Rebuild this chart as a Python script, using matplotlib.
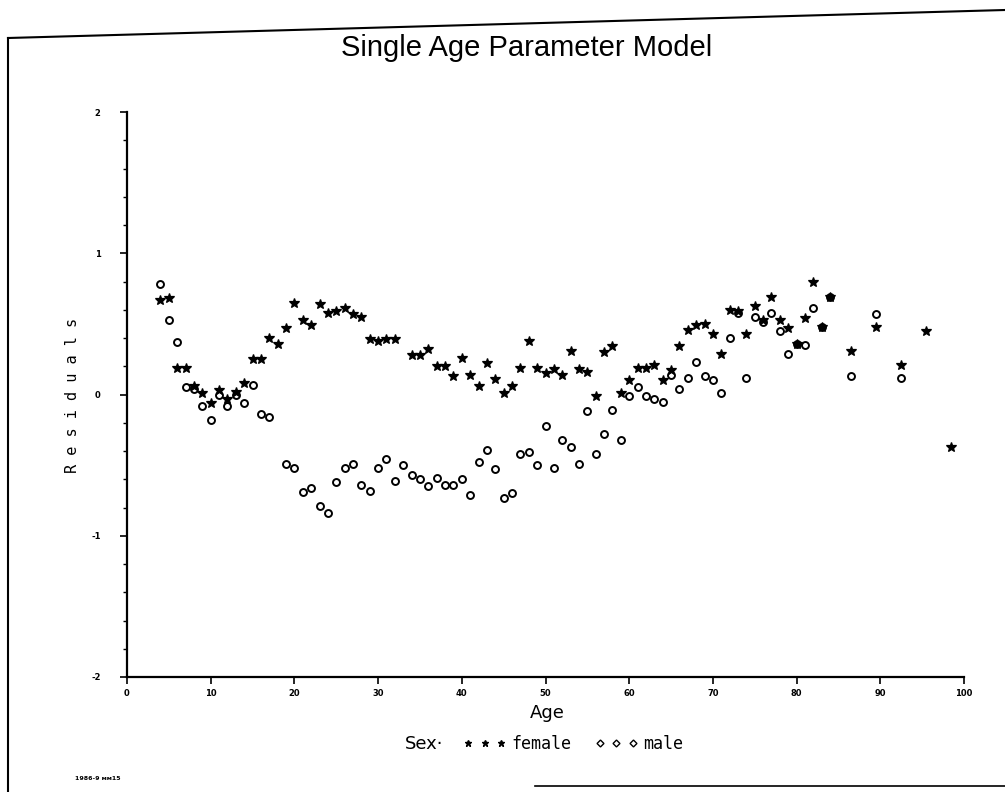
import matplotlib
matplotlib.use("Agg")
import matplotlib.pyplot as plt
from matplotlib.lines import Line2D
from matplotlib.ticker import MultipleLocator

# ---- data ----
female_age = [4, 5, 6, 7, 8, 9, 10, 11, 12, 13, 14, 15, 16, 17, 18, 19, 20, 21, 22,
              23, 24, 25, 26, 27, 28, 29, 30, 31, 32, 34, 35, 36, 37, 38, 39, 40,
              41, 42, 43, 44, 45, 46, 47, 48, 49, 50, 51, 52, 53, 54, 55, 56, 57,
              58, 59, 60, 61, 62, 63, 64, 65, 66, 67, 68, 69, 70, 71, 72, 73, 74,
              75, 76, 77, 78, 79, 80, 81, 82, 83, 84, 86.5, 89.5, 92.5, 95.5, 98.5]
female_resid = [0.67, 0.68, 0.19, 0.19, 0.06, 0.01, -0.06, 0.03, -0.03, 0.02, 0.08,
                0.25, 0.25, 0.40, 0.36, 0.47, 0.65, 0.53, 0.49, 0.64, 0.58, 0.59,
                0.61, 0.57, 0.55, 0.39, 0.38, 0.39, 0.39, 0.28, 0.28, 0.32, 0.20,
                0.20, 0.13, 0.26, 0.14, 0.06, 0.22, 0.11, 0.01, 0.06, 0.19, 0.38,
                0.19, 0.15, 0.18, 0.14, 0.31, 0.18, 0.16, -0.01, 0.30, 0.34, 0.01,
                0.10, 0.19, 0.19, 0.21, 0.10, 0.17, 0.34, 0.46, 0.49, 0.50, 0.43,
                0.29, 0.60, 0.59, 0.43, 0.63, 0.53, 0.69, 0.53, 0.47, 0.36, 0.54,
                0.80, 0.48, 0.69, 0.31, 0.48, 0.21, 0.45, -0.37]

male_age = [4, 5, 6, 7, 8, 9, 10, 11, 12, 13, 14, 15, 16, 17, 19, 20, 21, 22, 23,
            24, 25, 26, 27, 28, 29, 30, 31, 32, 33, 34, 35, 36, 37, 38, 39, 40, 41,
            42, 43, 44, 45, 46, 47, 48, 49, 50, 51, 52, 53, 54, 55, 56, 57, 58, 59,
            60, 61, 62, 63, 64, 65, 66, 67, 68, 69, 70, 71, 72, 73, 74, 75, 76, 77,
            78, 79, 80, 81, 82, 83, 84, 86.5, 89.5, 92.5]
male_resid = [0.78, 0.53, 0.37, 0.05, 0.04, -0.08, -0.18, 0.00, -0.08, 0.00, -0.06,
              0.07, -0.14, -0.16, -0.49, -0.52, -0.69, -0.66, -0.79, -0.84, -0.62,
              -0.52, -0.49, -0.64, -0.68, -0.52, -0.46, -0.61, -0.50, -0.57, -0.60,
              -0.65, -0.59, -0.64, -0.64, -0.60, -0.71, -0.48, -0.39, -0.53, -0.73,
              -0.70, -0.42, -0.41, -0.50, -0.22, -0.52, -0.32, -0.37, -0.49, -0.12,
              -0.42, -0.28, -0.11, -0.32, -0.01, 0.05, -0.01, -0.03, -0.05, 0.14,
              0.04, 0.12, 0.23, 0.13, 0.10, 0.01, 0.40, 0.58, 0.12, 0.55, 0.51,
              0.58, 0.45, 0.29, 0.36, 0.35, 0.61, 0.48, 0.69, 0.13, 0.57, 0.12]

x_ticks = [0, 10, 20, 30, 40, 50, 60, 70, 80, 90, 100]
y_ticks = [-2, -1, 0, 1, 2]

title = "Single Age Parameter Model"
x_label = "Age"
y_label = "R e s i d u a l s"
legend_title = "Sex·"
series_names = ["female", "male"]
footnote = "1986-9 мм15"

# ---- figure ----
W, H = 1005, 792
fig = plt.figure(figsize=(W / 100, H / 100), dpi=100)
fig.patch.set_facecolor("white")

ax = fig.add_axes([127 / W, 1 - 677 / H, (964 - 127) / W, (677 - 112) / H])
ax.set_xlim(0, 100)
ax.set_ylim(-2, 2)
for s in ["top", "right"]:
    ax.spines[s].set_visible(False)
for s in ["left", "bottom"]:
    ax.spines[s].set_linewidth(1.6)
    ax.spines[s].set_color("black")

ax.set_xticks(x_ticks)
ax.set_xticklabels([str(t) for t in x_ticks])
ax.set_yticks(y_ticks)
ax.set_yticklabels([str(t) for t in y_ticks])
ax.yaxis.set_minor_locator(MultipleLocator(0.2))
ax.tick_params(axis="both", which="major", direction="out", length=5, width=1.2,
               labelsize=6, pad=4)
ax.tick_params(axis="y", which="minor", direction="out", length=3, width=1.0)
ax.tick_params(axis="y", which="major", pad=14)
for lbl in ax.get_xticklabels() + ax.get_yticklabels():
    lbl.set_fontweight("bold")

ax.plot(female_age, female_resid, linestyle="none", marker="*", markersize=7,
        color="black", markeredgewidth=0.9, label=series_names[0])
ax.plot(male_age, male_resid, linestyle="none", marker="o", markersize=5,
        markerfacecolor="none", markeredgecolor="black", markeredgewidth=1.4,
        label=series_names[1])

fig.text(527 / W, 1 - 48 / H, title, ha="center", va="center", fontsize=21,
         family="Liberation Sans")
fig.text(547 / W, 1 - 713 / H, x_label, ha="center", va="center", fontsize=13,
         family="DejaVu Sans")
fig.text(72 / W, 1 - 395 / H, y_label, ha="center", va="center", fontsize=11,
         rotation=90, family="DejaVu Sans Mono")

fig.text(424 / W, 1 - 744 / H, legend_title, ha="center", va="center", fontsize=13,
         family="DejaVu Sans")
handles = [
    Line2D([], [], linestyle="none", marker="*", markersize=5, color="black"),
    Line2D([], [], linestyle="none", marker="D", markersize=3.5,
           markerfacecolor="none", markeredgecolor="black", markeredgewidth=1.0),
]
leg = fig.legend(handles, series_names, loc="center", ncol=2, numpoints=3,
                 bbox_to_anchor=(573 / W, 1 - 744 / H), frameon=False,
                 prop={"family": "DejaVu Sans Mono", "size": 12},
                 handlelength=2.6, handletextpad=0.3, columnspacing=1.4)

fig.text(75 / W, 1 - 778 / H, footnote, ha="left", va="center", fontsize=4.5,
         family="DejaVu Sans", fontweight="bold")

# scanned page frame
fig.add_artist(Line2D([8 / W, 8 / W], [1 - 38 / H, 0], transform=fig.transFigure,
                      color="black", linewidth=1.5))
fig.add_artist(Line2D([8 / W, 1.0], [1 - 38 / H, 1 - 10 / H], transform=fig.transFigure,
                      color="black", linewidth=1.5))
fig.add_artist(Line2D([535 / W, 1.0], [1 - 786 / H, 1 - 786 / H], transform=fig.transFigure,
                      color="black", linewidth=1.2))

fig.savefig("out.png", dpi=100, facecolor="white")
